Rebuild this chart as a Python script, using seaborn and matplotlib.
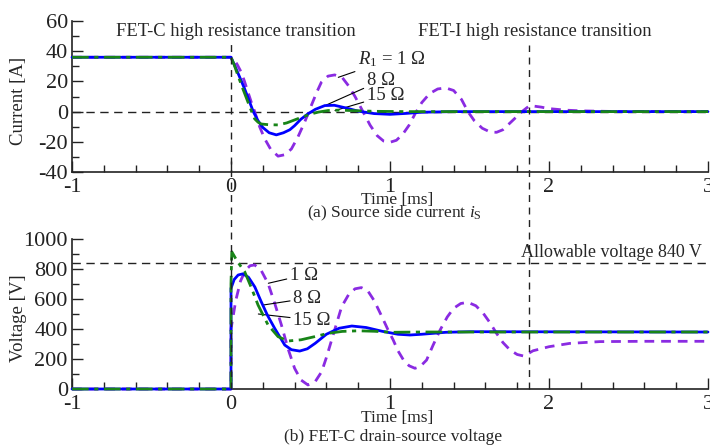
import seaborn as sns
import matplotlib
matplotlib.use('Agg')  # no display

import matplotlib.pyplot as plt
import matplotlib.transforms as mtransforms
from matplotlib.lines import Line2D
from matplotlib.ticker import MultipleLocator

# ---- (a) source side current ----
t_cur_1 = [-1.0, 0.0, 0.02, 0.04, 0.065, 0.085, 0.107, 0.13, 0.149, 0.18, 0.212, 0.25, 0.296, 0.34,
           0.38, 0.42, 0.463, 0.505, 0.54, 0.568, 0.61, 0.652, 0.70, 0.74, 0.78, 0.83, 0.875, 0.92,
           0.96, 1.0, 1.04, 1.08, 1.12, 1.16, 1.20, 1.25, 1.30, 1.35, 1.40, 1.45, 1.49, 1.53, 1.58,
           1.63, 1.67, 1.71, 1.76, 1.80, 1.83, 1.86, 1.88, 1.95, 2.0, 2.1, 2.2, 2.4, 3.0]
cur_1 = [36, 36, 34.5, 31, 26, 20, 12.8, 5.5, 0, -10, -18, -25, -29.5, -28.5,
         -24.7, -17, -7, 4, 13, 19.4, 23.5, 24.3, 22.5, 17, 10, 0, -9, -16,
         -19.5, -20.3, -19, -15, -9, -1, 6, 12, 15, 15.7, 14, 8, 0, -6, -11,
         -13.5, -13.7, -12, -7, -3, 0, 2.5, 4, 3, 2, 1, 0.5, 0.1, 0]

t_cur_8 = [-1.0, 0.0, 0.023, 0.05, 0.086, 0.115, 0.14, 0.17, 0.20, 0.24, 0.285, 0.33, 0.37, 0.40,
           0.44, 0.484, 0.53, 0.59, 0.65, 0.72, 0.80, 0.90, 1.0, 1.1, 1.2, 1.4, 3.0]
cur_8 = [36, 36, 30.5, 24, 15, 7, 0, -6, -10.5, -14, -15.4, -14, -12, -9.3,
         -5, -1.5, 1.5, 4, 4.2, 2.5, 0.3, -1.3, -1.8, -1.2, -0.4, 0, 0]

t_cur_15 = [-1.0, 0.0, 0.02, 0.044, 0.075, 0.107, 0.13, 0.149, 0.17, 0.19, 0.24, 0.296, 0.35, 0.40,
            0.45, 0.505, 0.55, 0.61, 0.68, 0.76, 0.9, 1.1, 3.0]
cur_15 = [36, 36, 31, 23.8, 15, 6.2, 0, -4.8, -7, -8.2, -8.7, -8.8, -7.5, -5.5,
          -3.5, -1.5, -0.3, 0.7, 1.0, 0.7, 0.2, 0, 0]

# ---- (b) FET-C drain-source voltage ----
t_vol_1 = [-1.0, 0.0, 0.0, 0.03, 0.06, 0.09, 0.12, 0.149, 0.19, 0.233, 0.275, 0.317, 0.358, 0.40,
           0.44, 0.484, 0.53, 0.57, 0.60, 0.633, 0.665, 0.696, 0.74, 0.78, 0.82, 0.86, 0.90, 0.95,
           0.985, 1.02, 1.05, 1.085, 1.12, 1.157, 1.19, 1.23, 1.27, 1.315, 1.36, 1.40, 1.445, 1.49,
           1.54, 1.587, 1.63, 1.67, 1.71, 1.755, 1.80, 1.84, 1.875, 1.9, 2.0, 2.13, 2.32, 2.6, 3.0]
vol_1 = [0, 0, 400, 590, 720, 790, 822, 827, 790, 704, 571, 427, 271, 138,
         60, 27, 50, 115, 210, 327, 440, 549, 630, 668, 676, 655, 590, 480,
         400, 327, 255, 193, 155, 138, 150, 193, 290, 393, 480, 538, 570, 578,
         555, 504, 440, 371, 310, 260, 230, 220, 240, 255, 282, 304, 316, 318, 318]

t_vol_8 = [-1.0, 0.0, 0.0, 0.02, 0.045, 0.075, 0.11, 0.15, 0.19, 0.23, 0.275, 0.338, 0.38, 0.432,
           0.48, 0.53, 0.60, 0.68, 0.76, 0.85, 0.95, 1.05, 1.126, 1.2, 1.35, 1.5, 3.0]
vol_8 = [0, 0, 671, 730, 760, 768, 745, 680, 582, 490, 404, 293, 262, 253,
         268, 305, 365, 405, 420, 410, 385, 365, 360, 365, 378, 382, 380]

t_vol_15 = [-1.0, 0.0, 0.0, 0.005, 0.04, 0.086, 0.13, 0.17, 0.233, 0.296, 0.358, 0.44, 0.526, 0.61,
            0.70, 0.80, 0.9, 1.01, 1.2, 3.0]
vol_15 = [0, 0, 700, 915, 850, 782, 670, 560, 427, 349, 320, 328, 349, 371,
          384, 388, 385, 378, 380, 380]

t_fet_i = 1.875       # FET-I transition [ms]
v_allow = 840         # allowable voltage [V]

PURPLE = '#8a2be2'
BLUE = '#0000ff'
GREEN = '#188418'

sns.set_style("ticks")
plt.rcParams['font.family'] = ['Liberation Serif', 'DejaVu Serif']
plt.rcParams['mathtext.fontset'] = 'custom'
plt.rcParams['mathtext.rm'] = 'Liberation Serif'
plt.rcParams['mathtext.it'] = 'Liberation Serif:italic'
plt.rcParams['axes.unicode_minus'] = False

fig = plt.figure(figsize=(7.1, 4.46), dpi=100)
ax1 = fig.add_axes([0.1014, 0.6143, 0.8958, 0.3386])
ax2 = fig.add_axes([0.1014, 0.1278, 0.8958, 0.3363])


def draw(ax, t, y, color, dashes, z):
    sns.lineplot(x=t, y=y, ax=ax, color=color, lw=2, estimator=None, sort=False, zorder=z)
    line = ax.lines[-1]
    line.set_clip_on(False)
    if dashes:
        line.set_dashes(dashes)


draw(ax1, t_cur_1, cur_1, PURPLE, (3.5, 2.5), 3)
draw(ax1, t_cur_8, cur_8, BLUE, None, 4)
draw(ax1, t_cur_15, cur_15, GREEN, (6, 2, 1.5, 2), 5)

draw(ax2, t_vol_1, vol_1, PURPLE, (3.5, 2.5), 3)
draw(ax2, t_vol_8, vol_8, BLUE, None, 4)
draw(ax2, t_vol_15, vol_15, GREEN, (6, 2, 1.5, 2), 5)

ax1.axhline(0, color='#222222', lw=1, dashes=(6, 4), zorder=2)
ax2.axhline(v_allow, color='#222222', lw=1, dashes=(6, 4), zorder=2)

# vertical transition markers across both panels
blend = mtransforms.blended_transform_factory(ax1.transData, fig.transFigure)
for tx, ytop in [(0, 0.906), (t_fet_i, 0.899)]:
    fig.add_artist(Line2D([tx, tx], [0.1278, ytop], transform=blend,
                          color='#222222', lw=1, dashes=(5, 4), zorder=1))

for ax, ylim, major, minor in [(ax1, (-40, 60), 20, 10), (ax2, (0, 1000), 200, 100)]:
    ax.set_xlim(-1, 3)
    ax.set_ylim(*ylim)
    ax.xaxis.set_major_locator(MultipleLocator(1))
    ax.xaxis.set_minor_locator(MultipleLocator(0.2))
    ax.yaxis.set_major_locator(MultipleLocator(major))
    ax.yaxis.set_minor_locator(MultipleLocator(minor))
    ax.tick_params(which='major', direction='in', length=8, width=1, labelsize=16,
                   colors='#222222', pad=3)
    ax.tick_params(axis='x', which='major', pad=4.5)
    ax.tick_params(which='minor', direction='in', length=5, width=1, colors='#222222')
    sns.despine(ax=ax)
    for s in ['left', 'bottom']:
        ax.spines[s].set_linewidth(1.2)
        ax.spines[s].set_color('#222222')
    ax.set_xlabel('')

ax1.set_ylabel('Current [A]', fontsize=13.5)
ax1.yaxis.set_label_coords(-0.071, 0.47)
ax2.set_ylabel('Voltage [V]', fontsize=13.5)
ax2.yaxis.set_label_coords(-0.071, 0.47)

ax1.text(0.03, 53, 'FET-C high resistance transition', ha='center', va='center', fontsize=13.3)
ax1.text(1.91, 53, 'FET-I high resistance transition', ha='center', va='center', fontsize=13.3)
ax2.text(2.96, 913, 'Allowable voltage 840 V', ha='right', va='center', fontsize=13)

# curve labels with leader lines
lead = dict(arrowstyle='-', color='black', lw=0.8, shrinkA=0, shrinkB=0)
ax1.annotate(r'$R_1$ = 1 Ω', xy=(0.675, 22.7), xytext=(0.80, 35), fontsize=13.5,
             va='center', ha='left', arrowprops=lead)
ax1.annotate('8 Ω', xy=(0.60, 4.4), xytext=(0.855, 20.5), fontsize=13.5,
             va='center', ha='left', arrowprops=lead)
ax1.annotate('15 Ω', xy=(0.654, 0.7), xytext=(0.855, 10.6), fontsize=13.5,
             va='center', ha='left', arrowprops=lead)
ax2.annotate('1 Ω', xy=(0.235, 705), xytext=(0.371, 760), fontsize=13.5,
             va='center', ha='left', arrowprops=lead)
ax2.annotate('8 Ω', xy=(0.203, 560), xytext=(0.392, 605), fontsize=13.5,
             va='center', ha='left', arrowprops=lead)
ax2.annotate('15 Ω', xy=(0.172, 500), xytext=(0.392, 460), fontsize=13.5,
             va='center', ha='left', arrowprops=lead)

fig.text(0.559, 0.5516, 'Time [ms]', ha='center', va='center', fontsize=12.5)
fig.text(0.556, 0.5224, r'(a) Source side current $i_\mathrm{S}$', ha='center', va='center', fontsize=12.5)
fig.text(0.559, 0.0628, 'Time [ms]', ha='center', va='center', fontsize=12.5)
fig.text(0.554, 0.0202, '(b) FET-C drain-source voltage', ha='center', va='center', fontsize=12.5)

plt.savefig('out.png', dpi=100)
plt.close()
